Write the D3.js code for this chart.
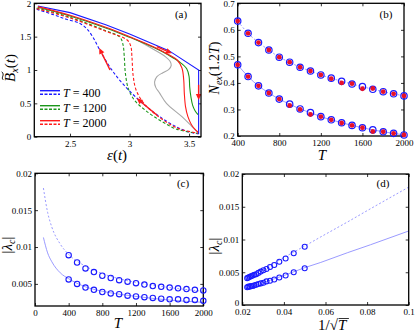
<!DOCTYPE html>
<html><head><meta charset="utf-8">
<script src="https://cdn.jsdelivr.net/npm/d3@7"></script>
<style>body{margin:0;background:#fff}svg{display:block}</style>
</head><body><svg id="c" width="415" height="335"></svg>
<script>
// ---------- Panel (a): B_x(t) vs eps(t) ----------
const aBlueSolid  = [[2.23,1.96],[2.5,1.86],[2.8,1.68],[3.0,1.54],[3.33,1.29],[3.58,1.0],[3.58,0.04]];
const aGreenSolid = [[2.23,1.94],[2.5,1.81],[2.8,1.63],[3.0,1.49],[3.2,1.34],[3.33,1.22],[3.42,1.12],[3.48,1.02],[3.5,0.9],[3.505,0.75],[3.515,0.6],[3.53,0.47],[3.55,0.39],[3.575,0.33]];
const aRedSolid   = [[2.23,1.95],[2.5,1.82],[2.8,1.64],[3.0,1.50],[3.2,1.35],[3.33,1.23],[3.4,1.15],[3.44,1.03],[3.455,0.85],[3.46,0.65],[3.47,0.45],[3.49,0.3],[3.52,0.18],[3.55,0.11],[3.575,0.07]];
const aGraySolid  = [[3.05,1.46],[3.2,1.31],[3.3,1.2],[3.34,1.13],[3.35,1.07],[3.33,1.01],[3.28,0.96],[3.23,0.9],[3.21,0.82],[3.22,0.74],[3.25,0.66],[3.31,0.5],[3.44,0.3],[3.52,0.16],[3.575,0.06]];
const aBlueDash   = [[2.22,1.91],[2.36,1.83],[2.47,1.76],[2.58,1.70],[2.64,1.62],[2.69,1.50],[2.75,1.30],[2.84,1.03],[2.93,0.82],[3.06,0.58],[3.23,0.33],[3.37,0.17],[3.48,0.08],[3.58,0.04]];
const aGreenDash  = [[2.22,1.93],[2.5,1.79],[2.8,1.59],[2.92,1.49],[2.945,1.38],[2.955,1.22],[2.965,0.95],[2.99,0.72],[3.04,0.55],[3.13,0.40],[3.26,0.24],[3.4,0.11],[3.58,0.05]];
const aRedDash    = [[2.22,1.92],[2.5,1.78],[2.8,1.58],[2.98,1.45],[3.01,1.36],[3.02,1.2],[3.03,0.92],[3.055,0.7],[3.12,0.5],[3.26,0.28],[3.4,0.13],[3.58,0.05]];
const aArrows     = [[[3.229,1.35],[3.355,1.25]],[[3.58,0.78],[3.58,0.55]],[[3.229,0.325],[3.06,0.575]],[[2.836,1.0],[2.745,1.33]]];
const aLegend     = ["400","1200","2000"];
const aXTicks = [2.5,3,3.5], aYTicks = [0,0.5,1,1.5,2];

// ---------- Panel (b): N_ex(1.2T) vs T ----------
const nT         = [400,500,600,700,800,900,1000,1100,1200,1300,1400,1500,1600,1700,1800,1900,2000];
const nUpperBlue = [0.633,0.587,0.552,0.524,0.497,0.478,0.459,0.445,0.430,0.418,0.406,0.396,0.386,0.376,0.367,0.359,0.351];
const nUpperRed  = [0.633,0.587,0.552,0.524,0.497,0.478,0.459,0.445,0.430,0.416,0.400,0.397,0.378,0.379,0.367,0.359,0.351];
const nLowerBlue = [0.468,0.424,0.389,0.362,0.339,0.320,0.302,0.288,0.273,0.261,0.250,0.240,0.231,0.223,0.216,0.210,0.204];
const nLowerRed  = [0.468,0.424,0.389,0.362,0.339,0.315,0.300,0.281,0.273,0.261,0.249,0.240,0.231,0.217,0.216,0.210,0.204];
const bXTicks = [400,800,1200,1600,2000], bYTicks = [0.2,0.3,0.4,0.5,0.6,0.7];

// ---------- Panels (c),(d): |lambda_c| ----------
const lamT     = [400,500,600,700,800,900,1000,1100,1200,1300,1400,1500,1600,1700,1800,1900,2000];
const lamUpper = [0.0089,0.0079,0.0071,0.0066,0.0061,0.0058,0.0055,0.0053,0.0051,0.0049,0.0047,0.0046,0.0045,0.0044,0.0043,0.0042,0.0041];
const lamLower = [0.0056,0.0050,0.0045,0.0042,0.0039,0.0037,0.0036,0.0034,0.0033,0.0032,0.0031,0.0030,0.0029,0.0029,0.0028,0.0028,0.0027];
const fitT     = [100,150,200,300,400,600,800,1000,1200,1600,2000];
const fitUpper = [0.0180,0.0147,0.0127,0.0104,0.0090,0.0074,0.0064,0.0057,0.0052,0.0045,0.0040];
const fitLower = [0.0113,0.0092,0.0080,0.0065,0.0057,0.0046,0.0040,0.0036,0.0033,0.0028,0.0025];
const cXTicks = [0,400,800,1200,1600,2000], cYTicks = [0.005,0.01,0.015,0.02];
const dXTicks = [0.02,0.04,0.06,0.08,0.1], dYTicks = [0,0.005,0.01,0.015,0.02];

const FONT = "'Liberation Serif','Times New Roman',serif";
const BLUE = "#1a1aff", GREEN = "#1a961a", RED = "#ff1a1a", GRAY = "#a8a8a8", FAINT = "#8f8fff";
const svg = d3.select('#c');

function frame(id, x, y, xt, yt) {
  const g = svg.append('g');
  const [xa, xb] = x.range(), [ya, yb] = y.range();
  const style = s => {
    s.select('.domain').remove();
    s.selectAll('text').attr('font-family', FONT).attr('font-size', 9).attr('fill', '#000');
    s.selectAll('line').attr('stroke', '#000').attr('stroke-width', 0.8);
  };
  g.append('g').attr('transform', `translate(0,${ya})`)
    .call(d3.axisBottom(x).tickValues(xt).tickSizeInner(-3).tickSizeOuter(0).tickPadding(4).tickFormat(d => String(d))).call(style);
  g.append('g').attr('transform', `translate(0,${yb})`)
    .call(d3.axisTop(x).tickValues(xt).tickSizeInner(-3).tickSizeOuter(0).tickFormat('')).call(style);
  const left = g.append('g').attr('transform', `translate(${xa},0)`)
    .call(d3.axisLeft(y).tickValues(yt).tickSizeInner(-3).tickSizeOuter(0).tickPadding(3).tickFormat(d => String(d))).call(style);
  g.append('g').attr('transform', `translate(${xb},0)`)
    .call(d3.axisRight(y).tickValues(yt).tickSizeInner(-3).tickSizeOuter(0).tickFormat('')).call(style);
  svg.append('clipPath').attr('id', 'clip' + id).append('rect')
    .attr('x', xa).attr('y', yb).attr('width', xb - xa).attr('height', ya - yb);
  const plot = svg.append('g').attr('clip-path', `url(#clip${id})`);
  const top = svg.append('g');
  top.append('rect').attr('x', xa).attr('y', yb).attr('width', xb - xa).attr('height', ya - yb)
    .attr('fill', 'none').attr('stroke', '#000').attr('stroke-width', 1.3);
  return {plot, top, left};
}

function panelLabel(t, x, y) {
  svg.append('text').attr('x', x).attr('y', y).attr('text-anchor', 'middle')
    .attr('font-family', FONT).attr('font-size', 11).text(t);
}

// ===== (a) =====
{
  const x = d3.scaleLinear().domain([2.2, 3.6]).range([34.3, 201]);
  const y = d3.scaleLinear().domain([0, 2]).range([136.7, 3.3]);
  const {plot, top} = frame('a', x, y, aXTicks, aYTicks);
  const lineC = d3.line().x(d => x(d[0])).y(d => y(d[1])).curve(d3.curveCatmullRom.alpha(0.5));
  const lineL = d3.line().x(d => x(d[0])).y(d => y(d[1]));
  const draw = (data, col, dash, gen) => plot.append('path').attr('d', (gen || lineC)(data))
    .attr('fill', 'none').attr('stroke', col).attr('stroke-width', 1.1).attr('stroke-dasharray', dash ? '3,2' : null);
  draw(aGraySolid, GRAY, false);
  draw(aBlueDash, BLUE, true);
  draw(aGreenDash, GREEN, true);
  draw(aRedDash, RED, true);
  draw(aBlueSolid, BLUE, false, lineL);
  draw(aGreenSolid, GREEN, false);
  draw(aRedSolid, RED, false);
  // arrows
  aArrows.forEach(([p, q]) => {
    const x1 = x(p[0]), y1 = y(p[1]), x2 = x(q[0]), y2 = y(q[1]);
    const ang = Math.atan2(y2 - y1, x2 - x1), L = 6, W = 2.8;
    const bx = x2 - L * Math.cos(ang), by = y2 - L * Math.sin(ang);
    plot.append('line').attr('x1', x1).attr('y1', y1).attr('x2', bx).attr('y2', by)
      .attr('stroke', RED).attr('stroke-width', 1.4);
    plot.append('path').attr('d', `M${x2},${y2}L${bx - W * Math.sin(ang)},${by + W * Math.cos(ang)}L${bx + W * Math.sin(ang)},${by - W * Math.cos(ang)}Z`)
      .attr('fill', RED);
  });
  // legend
  const cols = [BLUE, GREEN, RED];
  aLegend.forEach((t, i) => {
    const yy = 90.7 + i * 15;
    top.append('line').attr('x1', 40).attr('x2', 60).attr('y1', yy).attr('y2', yy).attr('stroke', cols[i]).attr('stroke-width', 1.4);
    top.append('line').attr('x1', 40).attr('x2', 60).attr('y1', yy + 3.5).attr('y2', yy + 3.5).attr('stroke', cols[i]).attr('stroke-width', 1.4).attr('stroke-dasharray', '3,1.5');
    const tx = top.append('text').attr('x', 63).attr('y', yy + 6.5).attr('font-family', FONT).attr('font-size', 12);
    tx.append('tspan').attr('font-style', 'italic').text('T');
    tx.append('tspan').text(' = ' + t);
  });
  // y label with tilde over B
  const lg = svg.append('g');
  const yl = lg.append('text').attr('x', 0).attr('y', 0).attr('font-family', FONT).attr('font-size', 15);
  const tB = yl.append('tspan').attr('font-style', 'italic').text('B');
  yl.append('tspan').attr('font-style', 'italic').attr('font-size', 10).attr('dy', 3).text('x');
  yl.append('tspan').attr('dy', -3).text('(');
  yl.append('tspan').attr('font-style', 'italic').text('t');
  yl.append('tspan').text(')');
  const totW = yl.node().getComputedTextLength();
  const bw = tB.node().getComputedTextLength();
  const tx0 = 2, tx1 = bw + 1, ty = -12.5, tw = tx1 - tx0;
  lg.append('path').attr('d', `M${tx0},${ty + 0.8}C${tx0 + tw * 0.3},${ty - 2.2} ${tx0 + tw * 0.6},${ty + 3} ${tx1},${ty - 0.8}`)
    .attr('fill', 'none').attr('stroke', '#000').attr('stroke-width', 0.9);
  lg.attr('transform', `translate(15,${68 + totW / 2}) rotate(-90)`);
  const xl = svg.append('text').attr('x', 117).attr('y', 160).attr('text-anchor', 'middle')
    .attr('font-family', FONT).attr('font-size', 15);
  xl.append('tspan').attr('font-style', 'italic').text('ε');
  xl.append('tspan').text('(');
  xl.append('tspan').attr('font-style', 'italic').text('t');
  xl.append('tspan').text(')');
  panelLabel('(a)', 181, 18);
}

// ===== (b) =====
{
  const x = d3.scaleLinear().domain([400, 2000]).range([237.7, 404]);
  const y = d3.scaleLinear().domain([0.2, 0.7]).range([136, 3.3]);
  const {plot} = frame('b', x, y, bXTicks, bYTicks);
  const ln = d3.line().x((d, i) => x(nT[i])).y(d => y(d)).curve(d3.curveMonotoneX);
  plot.append('path').attr('d', ln(nUpperBlue)).attr('fill', 'none').attr('stroke', FAINT).attr('stroke-width', 0.9).attr('stroke-dasharray', '2,2');
  plot.append('path').attr('d', ln(nLowerBlue)).attr('fill', 'none').attr('stroke', FAINT).attr('stroke-width', 0.9);
  [nUpperBlue, nLowerBlue].forEach(arr => {
    svg.append('g').selectAll('circle').data(arr).join('circle')
      .attr('cx', (d, i) => x(nT[i])).attr('cy', d => y(d)).attr('r', 3.2)
      .attr('fill', 'none').attr('stroke', BLUE).attr('stroke-width', 1.2);
  });
  [nUpperRed, nLowerRed].forEach(arr => {
    svg.append('g').selectAll('circle').data(arr).join('circle')
      .attr('cx', (d, i) => x(nT[i])).attr('cy', d => y(d)).attr('r', 2.4).attr('fill', '#e8102a');
  });
  const yl = svg.append('text').attr('transform', 'translate(219,68) rotate(-90)').attr('text-anchor', 'middle')
    .attr('font-family', FONT).attr('font-size', 14);
  yl.append('tspan').attr('font-style', 'italic').text('N');
  yl.append('tspan').attr('font-style', 'italic').attr('font-size', 10).attr('dy', 3).text('ex');
  yl.append('tspan').attr('dy', -3).text('(1.2');
  yl.append('tspan').attr('font-style', 'italic').text('T');
  yl.append('tspan').text(')');
  svg.append('text').attr('x', 322).attr('y', 160).attr('text-anchor', 'middle').attr('font-family', FONT)
    .attr('font-size', 15).attr('font-style', 'italic').text('T');
  panelLabel('(b)', 386, 18);
}

function lamLabel(cx, cy) {
  const t = svg.append('text').attr('transform', `translate(${cx},${cy}) rotate(-90)`).attr('text-anchor', 'middle')
    .attr('font-family', FONT).attr('font-size', 15);
  t.append('tspan').text('|');
  t.append('tspan').attr('font-style', 'italic').text('λ');
  t.append('tspan').attr('font-style', 'italic').attr('font-size', 10).attr('dy', 3).text('c');
  t.append('tspan').attr('dy', -3).text('|');
}

// ===== (c) =====
{
  const x = d3.scaleLinear().domain([0, 2000]).range([35, 203.3]);
  const y = d3.scaleLinear().domain([0.002, 0.02]).range([306, 173.3]);
  const {plot} = frame('c', x, y, cXTicks, cYTicks);
  const ln = d3.line().x((d, i) => x(fitT[i])).y(d => y(d)).curve(d3.curveMonotoneX);
  plot.append('path').attr('d', ln(fitUpper)).attr('fill', 'none').attr('stroke', FAINT).attr('stroke-width', 0.9).attr('stroke-dasharray', '2,2');
  plot.append('path').attr('d', ln(fitLower)).attr('fill', 'none').attr('stroke', FAINT).attr('stroke-width', 0.9);
  [lamUpper, lamLower].forEach(arr => {
    svg.append('g').selectAll('circle').data(arr).join('circle')
      .attr('cx', (d, i) => x(lamT[i])).attr('cy', d => y(d)).attr('r', 2.7)
      .attr('fill', 'none').attr('stroke', BLUE).attr('stroke-width', 1.1);
  });
  lamLabel(12, 245);
  svg.append('text').attr('x', 118).attr('y', 328).attr('text-anchor', 'middle').attr('font-family', FONT)
    .attr('font-size', 15).attr('font-style', 'italic').text('T');
  panelLabel('(c)', 183, 187);
}

// ===== (d) =====
{
  const x = d3.scaleLinear().domain([0.02, 0.1]).range([242.3, 408.7]);
  const y = d3.scaleLinear().domain([0, 0.02]).range([305, 174]);
  const {plot, left} = frame('d', x, y, dXTicks, dYTicks);
  // lift the "0" y-tick label a little so it clears the "0.02" x-tick label
  left.selectAll('.tick').filter(d => d === 0).select('text').attr('dy', '0.05em');
  const ln = d3.line().x((d, i) => x(1 / Math.sqrt(fitT[i]))).y(d => y(d));
  plot.append('path').attr('d', ln(fitUpper)).attr('fill', 'none').attr('stroke', FAINT).attr('stroke-width', 0.9).attr('stroke-dasharray', '2,2');
  plot.append('path').attr('d', ln(fitLower)).attr('fill', 'none').attr('stroke', FAINT).attr('stroke-width', 0.9);
  [lamUpper, lamLower].forEach(arr => {
    svg.append('g').selectAll('circle').data(arr).join('circle')
      .attr('cx', (d, i) => x(1 / Math.sqrt(lamT[i]))).attr('cy', d => y(d)).attr('r', 2.5)
      .attr('fill', 'none').attr('stroke', BLUE).attr('stroke-width', 1.1);
  });
  lamLabel(219, 246);
  const xl = svg.append('text').attr('x', 318).attr('y', 330).attr('font-family', FONT).attr('font-size', 15);
  xl.append('tspan').text('1/√');
  const tT = xl.append('tspan').attr('font-style', 'italic').text('T');
  const bb = xl.node().getBBox();
  const tw = tT.node().getComputedTextLength();
  const x1 = bb.x + bb.width - tw - 1, x2 = bb.x + bb.width + 1;
  svg.append('line').attr('x1', x1).attr('x2', x2).attr('y1', bb.y + 1.5).attr('y2', bb.y + 1.5).attr('stroke', '#000').attr('stroke-width', 0.8);
  panelLabel('(d)', 383, 187);
}
</script></body></html>
